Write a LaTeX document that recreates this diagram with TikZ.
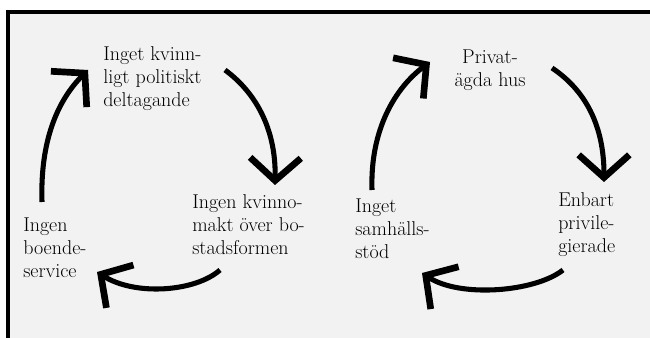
\documentclass[tikz,border=0pt]{standalone}
\usepackage{fontspec}
\usepackage{tikz}
\usetikzlibrary{arrows.meta}
\definecolor{paper}{HTML}{F2F2F2}
\tikzset{
  cyclearrow/.style={line width=3.8pt, -{Straight Barb[length=17pt,width=38pt,line width=5pt]}},
  cycletext/.style={inner sep=0pt, align=left, anchor=base west, font=\fontsize{15}{17.25}\selectfont}
}

\begin{document}
\begin{tikzpicture}[x=0.75pt,y=-0.75pt]
        \useasboundingbox (0,0) rectangle (650,338);
        \fill[paper] (6,10) rectangle (650,338);
        \fill[black] (6,10) rectangle (650,14);
        \fill[black] (6,10) rectangle (10,338);

        % left cycle
        \node[cycletext] (politik) at (103,107) {Inget kvinn-\\ligt politiskt\\deltagande};
        \node[cycletext] (makt) at (192,255) {Ingen kvinno-\\makt över bo-\\stadsformen};
        \node[cycletext] (service) at (23,278) {Ingen\\boende-\\service};
        \coordinate (l1a) at (225,70);
        \coordinate (l1b) at (275,185);
        \coordinate (l2a) at (220,270);
        \coordinate (l2b) at (97,272);
        \coordinate (l3a) at (42,202);
        \coordinate (l3b) at (88,70);
        \draw[cyclearrow] (l1a) .. controls (255,92) and (276,128) .. (l1b);
        \draw[cyclearrow] (l2a) .. controls (195,292) and (135,296) .. (l2b);
        \draw[cyclearrow] (l3a) .. controls (40,140) and (58,100) .. (l3b);

        % right cycle
        \node[cycletext, anchor=base, align=center] (privat) at (490,87) {Privat-\\ägda hus};
        \node[cycletext] (enbart) at (558,253) {Enbart\\privile-\\gierade};
        \node[cycletext] (stod) at (355,259) {Inget\\samhälls-\\stöd};
        \coordinate (r1a) at (552,68);
        \coordinate (r1b) at (604,182);
        \coordinate (r2a) at (563,270);
        \coordinate (r2b) at (422,273);
        \coordinate (r3a) at (372,190);
        \coordinate (r3b) at (430,62);
        \draw[cyclearrow] (r1a) .. controls (585,90) and (604,125) .. (r1b);
        \draw[cyclearrow] (r2a) .. controls (535,292) and (460,298) .. (r2b);
        \draw[cyclearrow] (r3a) .. controls (370,130) and (395,88) .. (r3b);
    \end{tikzpicture}
\end{document}
